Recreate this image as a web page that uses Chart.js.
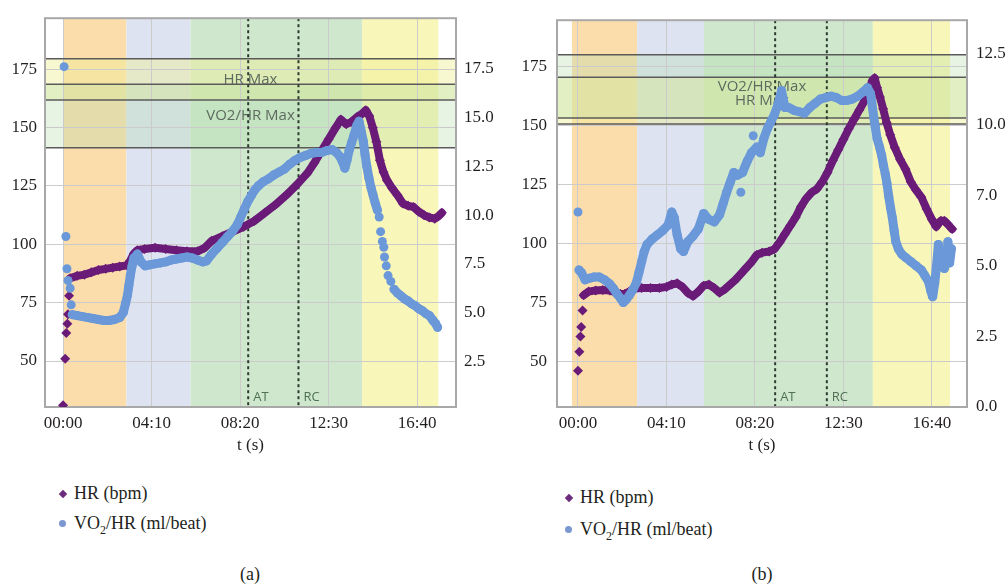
<!DOCTYPE html>
<html>
<head>
<meta charset="utf-8">
<script src="https://cdn.jsdelivr.net/npm/chart.js@4.4.0/dist/chart.umd.min.js"></script>
<style>
body { margin: 0; background: #fff; width: 1008px; height: 586px; overflow: hidden; position: relative; font-family: "Liberation Serif", serif; color: #231f20; }
.box { position: absolute; top: 0; width: 504px; height: 460px; }
.leg { position: absolute; font-family: "Liberation Serif", serif; font-size: 18px; line-height: 22px; white-space: nowrap; }
.leg sub { font-size: 12px; vertical-align: -5px; line-height: 0; }
.dia { display: inline-block; width: 6px; height: 6px; background: #6b2a7b; transform: rotate(45deg); margin: 0 8px 0 3px; vertical-align: 2px; }
.dot { display: inline-block; width: 7px; height: 7px; border-radius: 50%; background: #7b97d0; margin: 0 8px 0 2px; vertical-align: 2px; }
.cap { position: absolute; top: 563px; font-size: 18px; line-height: 22px; width: 60px; margin-left: -30px; text-align: center; }
</style>
</head>
<body>
<div class="box" style="left:0"><canvas id="chartA" width="504" height="460"></canvas></div>
<div class="box" style="left:504px"><canvas id="chartB" width="504" height="460"></canvas></div>

<div class="leg" style="left:57px;top:482px"><i class="dia"></i>HR (bpm)</div>
<div class="leg" style="left:57px;top:512px"><i class="dot"></i>VO<sub>2</sub>/HR (ml/beat)</div>
<div class="leg" style="left:563px;top:486px"><i class="dia"></i>HR (bpm)</div>
<div class="leg" style="left:563px;top:518px"><i class="dot"></i>VO<sub>2</sub>/HR (ml/beat)</div>
<div class="cap" style="left:250px">(a)</div>
<div class="cap" style="left:762px">(b)</div>

<script>
// time axis (seconds) and its labels
var tickSec = [0, 250, 500, 750, 1000];
var tickLabels = ['00:00', '04:10', '08:20', '12:30', '16:40'];
var hrTicks = [50, 75, 100, 125, 150, 175];
var hrLabels = ['50', '75', '100', '125', '150', '175'];

// ---- chart (a)
var hrA_t = [0, 6, 9, 12, 14, 17, 20, 40, 60, 80, 100, 120, 140, 160, 180, 190, 200, 210, 230, 260, 290, 320, 350, 380, 400, 420, 450, 480, 510, 540, 570, 600, 630, 660, 690, 710, 730, 750, 770, 785, 800, 815, 830, 845, 855, 865, 875, 885, 895, 905, 915, 930, 945, 960, 975, 990, 1005, 1020, 1035, 1050, 1060, 1070];
var hrA = [31, 51, 62, 66, 70, 78, 85.5, 86.5, 87, 88, 89, 89.5, 90, 90.5, 91, 93, 96, 97.5, 98, 98.5, 98, 97.5, 97, 97, 98.5, 101.5, 103.5, 105.5, 107.5, 110, 113.5, 117, 121, 125.5, 130.5, 135, 140, 145, 150, 153.5, 151.5, 152.5, 154.5, 156, 157.5, 155, 150, 144, 136, 131, 127.5, 124, 121, 117.5, 116.5, 116, 114, 112.5, 111.5, 111, 112, 113.5];
var voA_t = [3, 8, 11, 14, 20, 23, 26, 40, 55, 70, 85, 100, 115, 130, 145, 160, 170, 177, 182, 186, 190, 195, 200, 210, 220, 232, 245, 260, 275, 290, 305, 320, 335, 350, 365, 380, 395, 405, 420, 435, 450, 465, 480, 492, 502, 512, 522, 532, 542, 552, 565, 580, 595, 610, 625, 640, 655, 670, 685, 700, 715, 730, 745, 760, 772, 782, 790, 796, 802, 808, 815, 822, 830, 836, 842, 848, 853, 858, 864, 870, 876, 882, 888, 893, 897, 902, 906, 908, 913, 918, 926, 935, 945, 955, 965, 975, 985, 995, 1005, 1015, 1025, 1035, 1045, 1052, 1058];
var voA = [17.6, 8.9, 7.25, 6.65, 6.25, 5.4, 4.9, 4.85, 4.8, 4.75, 4.7, 4.65, 4.6, 4.6, 4.65, 4.75, 5.0, 5.5, 5.9, 6.4, 6.9, 7.4, 7.8, 8.0, 7.6, 7.4, 7.45, 7.5, 7.55, 7.6, 7.7, 7.75, 7.8, 7.85, 7.8, 7.7, 7.6, 7.65, 8.0, 8.3, 8.6, 8.9, 9.2, 9.5, 9.9, 10.3, 10.7, 11.0, 11.3, 11.5, 11.7, 11.85, 12.05, 12.2, 12.35, 12.6, 12.8, 12.95, 13.05, 13.15, 13.2, 13.2, 13.3, 13.35, 13.2, 13.0, 12.7, 12.4, 12.8, 13.3, 13.7, 14.1, 14.6, 14.8, 14.3, 13.8, 13.1, 12.5, 11.9, 11.4, 11.0, 10.6, 10.25, 9.9, 9.15, 8.65, 8.35, 7.85, 7.4, 6.9, 6.6, 6.2, 6.0, 5.85, 5.7, 5.6, 5.45, 5.35, 5.2, 5.1, 4.95, 4.85, 4.6, 4.45, 4.25];
var voExtraA_t = [];
var voExtraA = [];
var hrGapsA = [[0, 20]];             // isolated samples, not joined
var voGapsA = [[0, 26], [888, 935]];
var voTicksA = [2.5, 5, 7.5, 10, 12.5, 15, 17.5];
var voLabelsA = ['2.5', '5.0', '7.5', '10.0', '12.5', '15.0', '17.5'];
var phasesA = [[0, 179], [179, 360], [360, 845], [845, 1060]];
var hrMaxA = [161.9, 179.5];
var voMaxA = [13.44, 16.7];
var thresholdsA = [523, 665];

// ---- chart (b)
var hrB_t = [0, 4, 7, 9, 13, 16, 30, 50, 70, 90, 105, 120, 132, 145, 160, 180, 205, 230, 250, 265, 280, 295, 310, 325, 340, 355, 370, 385, 400, 415, 430, 445, 460, 475, 490, 505, 520, 540, 555, 570, 585, 600, 615, 630, 645, 660, 675, 690, 705, 720, 735, 750, 765, 780, 795, 810, 822, 832, 838, 845, 853, 862, 872, 882, 895, 910, 925, 940, 955, 970, 985, 1000, 1012, 1025, 1035, 1045, 1057];
var hrB = [46, 54, 60.5, 64.5, 71.5, 78, 79.5, 80, 80.2, 80, 79.2, 78.5, 78.5, 79.5, 80.8, 81, 81, 81, 81.5, 82.5, 83, 81.5, 79, 77.6, 79.5, 82, 82.5, 81, 79, 80.5, 82.5, 84.5, 87, 89.5, 92, 95, 96, 96.5, 97.5, 100.5, 104, 107.5, 111, 115.5, 119, 121.5, 123, 126, 130, 135, 139.5, 144, 148.5, 152.5, 156.5, 160.5, 165, 169, 170, 166, 162, 157, 151, 146, 140.5, 135.5, 131.5, 126, 122.5, 119.5, 114.5, 110, 107, 109.5, 109.5, 108, 106];
var voB_t = [3, 10, 20, 30, 45, 60, 75, 90, 100, 110, 120, 128, 136, 145, 155, 165, 172, 180, 187, 195, 210, 225, 240, 255, 265, 272, 280, 290, 298, 310, 325, 340, 355, 368, 385, 400, 410, 420, 430, 440, 450, 465, 478, 490, 505, 515, 525, 535, 545, 555, 565, 575, 585, 595, 610, 625, 640, 655, 670, 685, 700, 715, 730, 745, 760, 775, 790, 805, 818, 826, 830, 835, 840, 845, 852, 858, 863, 868, 873, 878, 883, 888, 893, 898, 905, 915, 925, 940, 955, 970, 980, 990, 997, 1002, 1008, 1013, 1018, 1020, 1025, 1030, 1035, 1038, 1042, 1045, 1050, 1055];
var voB = [4.85, 4.75, 4.5, 4.55, 4.6, 4.6, 4.5, 4.35, 4.2, 4.0, 3.85, 3.7, 3.8, 3.95, 4.15, 4.4, 4.75, 5.15, 5.5, 5.75, 5.95, 6.1, 6.25, 6.45, 6.9, 6.7, 6.1, 5.6, 5.5, 5.85, 6.05, 6.3, 6.85, 6.65, 6.55, 6.8, 7.2, 7.6, 7.95, 8.3, 8.2, 8.3, 8.7, 9.0, 9.2, 9.0, 9.5, 9.85, 10.1, 10.35, 10.7, 11.2, 10.6, 10.6, 10.5, 10.45, 10.4, 10.6, 10.75, 10.9, 10.95, 11.0, 10.95, 10.85, 10.85, 10.9, 11.0, 11.15, 11.3, 11.1, 10.8, 10.3, 9.9, 9.5, 9.2, 8.9, 8.55, 8.25, 7.9, 7.45, 7.05, 6.7, 6.25, 5.85, 5.6, 5.4, 5.3, 5.15, 5.0, 4.85, 4.65, 4.45, 4.1, 3.9, 4.4, 5.0, 5.75, 5.0, 5.3, 5.1, 4.9, 5.55, 5.3, 5.85, 5.1, 5.6];
var voExtraB_t = [0, 460, 495];      // stray samples
var voExtraB = [6.9, 7.6, 9.6];
var hrGapsB = [[0, 16]];
var voGapsB = [];
var voTicksB = [0, 2.5, 5, 7.5, 10, 12.5];
var voLabelsB = ['0.0', '2.5', '5.0', '7.0', '10.0', '12.5'];
var phasesB = [[-17, 167], [167, 356], [356, 833], [833, 1051]];
var hrMaxB = [150.55, 170.3];
var voMaxB = [10.23, 12.47];
var thresholdsB = [557, 703];

var thresholdNames = ['AT', 'RC'];
var phaseColors = ['rgb(251,221,172)', 'rgb(222,227,241)', 'rgb(207,232,205)', 'rgb(248,246,184)'];
var purple = '#6a1b78';
var blue = '#6a98d8';
var serif = { family: '"Liberation Serif", serif', size: 17 };

function pts(t, v) {
  var out = [];
  for (var i = 0; i < t.length; i++) out.push({ x: t[i], y: v[i] });
  return out;
}

// hide the joining stroke inside gap ranges, so those samples stay as loose dots
function gapColor(gaps) {
  return function (c) {
    var x0 = c.p0.parsed.x, x1 = c.p1.parsed.x;
    for (var i = 0; i < gaps.length; i++) {
      if (x0 >= gaps[i][0] && x1 <= gaps[i][1]) return 'rgba(0,0,0,0)';
    }
    return undefined;
  };
}

function overlay(cfg) {
  return {
    id: 'overlay',
    beforeDraw: function (chart) {
      var ctx = chart.ctx, a = chart.chartArea;
      var x = chart.scales.x, yl = chart.scales.y, yr = chart.scales.y2;
      ctx.save();
      for (var i = 0; i < cfg.phases.length; i++) {
        var x0 = x.getPixelForValue(cfg.phases[i][0]);
        var x1 = x.getPixelForValue(cfg.phases[i][1]);
        ctx.fillStyle = phaseColors[i];
        ctx.fillRect(x0, a.top, x1 - x0, a.bottom - a.top);
      }
      var h0 = yl.getPixelForValue(cfg.hrMax[1]), h1 = yl.getPixelForValue(cfg.hrMax[0]);
      var v0 = yr.getPixelForValue(cfg.voMax[1]), v1 = yr.getPixelForValue(cfg.voMax[0]);
      ctx.fillStyle = 'rgba(240,240,150,0.45)';
      ctx.fillRect(a.left, h0, a.right - a.left, h1 - h0);
      ctx.fillStyle = 'rgba(175,218,165,0.3)';
      ctx.fillRect(a.left, v0, a.right - a.left, v1 - v0);
      ctx.restore();
    },
    beforeDatasetsDraw: function (chart) {
      var ctx = chart.ctx, a = chart.chartArea;
      var x = chart.scales.x, yl = chart.scales.y, yr = chart.scales.y2;
      var h0 = yl.getPixelForValue(cfg.hrMax[1]), h1 = yl.getPixelForValue(cfg.hrMax[0]);
      var v0 = yr.getPixelForValue(cfg.voMax[1]), v1 = yr.getPixelForValue(cfg.voMax[0]);
      var cx = (a.left + a.right) / 2;
      ctx.save();
      // edges of the max bands
      ctx.strokeStyle = '#5a5a5a';
      ctx.lineWidth = 1.5;
      [h0, h1, v0, v1].forEach(function (yy) {
        ctx.beginPath();
        ctx.moveTo(a.left, yy);
        ctx.lineTo(a.right, yy);
        ctx.stroke();
      });
      ctx.fillStyle = '#5d6b5f';
      ctx.font = '15px "Open Sans"';
      ctx.textAlign = 'center';
      ctx.textBaseline = 'middle';
      ctx.fillText('HR Max', cx, (h0 + h1) / 2);
      ctx.fillText('VO2/HR Max', cx, (v0 + v1) / 2);
      // AT / RC
      ctx.strokeStyle = '#2f3b31';
      ctx.lineWidth = 2;
      ctx.setLineDash([3, 3]);
      ctx.font = '13px "Open Sans"';
      ctx.textAlign = 'left';
      for (var i = 0; i < cfg.thresholds.length; i++) {
        var px = x.getPixelForValue(cfg.thresholds[i]);
        ctx.beginPath();
        ctx.moveTo(px, a.top);
        ctx.lineTo(px, a.bottom);
        ctx.stroke();
        ctx.fillStyle = '#4f7156';
        ctx.fillText(thresholdNames[i], px + 5, a.bottom - 10);
      }
      ctx.setLineDash([]);
      // frame
      ctx.strokeStyle = '#a8a8a8';
      ctx.lineWidth = 2;
      ctx.strokeRect(a.left, a.top, a.right - a.left, a.bottom - a.top);
      ctx.restore();
    }
  };
}

function makeChart(id, cfg) {
  return new Chart(document.getElementById(id), {
    type: 'scatter',
    data: {
      datasets: [{
        label: 'VO2/HR (ml/beat)',
        data: pts(cfg.voT, cfg.vo),
        yAxisID: 'y2',
        showLine: true,
        borderColor: blue,
        backgroundColor: blue,
        borderWidth: 9,
        borderJoinStyle: 'round',
        borderCapStyle: 'round',
        pointRadius: 4.5,
        pointBorderWidth: 0,
        segment: { borderColor: gapColor(cfg.voGaps) }
      }, {
        label: 'VO2/HR extra',
        data: pts(cfg.voExtraT, cfg.voExtra),
        yAxisID: 'y2',
        backgroundColor: blue,
        borderWidth: 0,
        pointRadius: 4.5,
        pointBorderWidth: 0
      }, {
        label: 'HR (bpm)',
        data: pts(cfg.hrT, cfg.hr),
        yAxisID: 'y',
        showLine: true,
        borderColor: purple,
        backgroundColor: purple,
        borderWidth: 8,
        borderJoinStyle: 'round',
        borderCapStyle: 'round',
        pointStyle: 'rectRot',
        pointRadius: 5,
        pointBorderWidth: 0,
        segment: { borderColor: gapColor(cfg.hrGaps) }
      }]
    },
    options: {
      responsive: false,
      animation: false,
      devicePixelRatio: 1,
      layout: { padding: { top: 9.5, left: 0, right: 0, bottom: 0 } },
      plugins: { legend: { display: false }, tooltip: { enabled: false } },
      scales: {
        x: {
          type: 'linear',
          min: cfg.xr[0], max: cfg.xr[1],
          afterBuildTicks: function (s) { s.ticks = tickSec.map(function (v) { return { value: v }; }); },
          afterFit: function (s) { s.height = 53; },
          grid: { color: '#cbcbcb', drawTicks: false },
          border: { display: false },
          ticks: {
            padding: 6, color: '#231f20', font: serif, maxRotation: 0, autoSkip: false,
            callback: function (v, i) { return tickLabels[i]; }
          },
          title: { display: true, text: 't (s)', color: '#231f20', font: serif, padding: { top: 0, bottom: 4 } }
        },
        y: {
          position: 'left',
          min: cfg.hrR[0], max: cfg.hrR[1],
          afterBuildTicks: function (s) { s.ticks = hrTicks.map(function (v) { return { value: v }; }); },
          afterFit: function (s) { s.width = cfg.leftW; },
          grid: { color: '#cbcbcb', drawTicks: false },
          border: { display: false },
          ticks: {
            padding: cfg.leftPad, color: '#231f20', font: serif,
            callback: function (v, i) { return hrLabels[i]; }
          }
        },
        y2: {
          position: 'right',
          min: cfg.voR[0], max: cfg.voR[1],
          afterBuildTicks: function (s) { s.ticks = cfg.voTicks.map(function (v) { return { value: v }; }); },
          afterFit: function (s) { s.width = cfg.rightW; },
          grid: { display: false, drawTicks: false },
          border: { display: false },
          ticks: {
            padding: cfg.rightPad, color: '#231f20', font: serif,
            callback: function (v, i) { return cfg.voLabels[i]; }
          }
        }
      }
    },
    plugins: [overlay(cfg)]
  });
}

makeChart('chartA', {
  hrT: hrA_t, hr: hrA, voT: voA_t, vo: voA, voExtraT: voExtraA_t, voExtra: voExtraA,
  hrGaps: hrGapsA, voGaps: voGapsA,
  xr: [-51, 1110], hrR: [30.3, 196.9], voR: [0.17, 20.08],
  voTicks: voTicksA, voLabels: voLabelsA,
  phases: phasesA, hrMax: hrMaxA, voMax: voMaxA, thresholds: thresholdsA,
  leftW: 45, rightW: 48, leftPad: 8, rightPad: 8
});

makeChart('chartB', {
  hrT: hrB_t, hr: hrB, voT: voB_t, vo: voB, voExtraT: voExtraB_t, voExtra: voExtraB,
  hrGaps: hrGapsB, voGaps: voGapsB,
  xr: [-59.3, 1099], hrR: [30.6, 194.5], voR: [0, 13.69],
  voTicks: voTicksB, voLabels: voLabelsB,
  phases: phasesB, hrMax: hrMaxB, voMax: voMaxB, thresholds: thresholdsB,
  leftW: 53, rightW: 41, leftPad: 10, rightPad: 9
});
</script>
</body>
</html>
